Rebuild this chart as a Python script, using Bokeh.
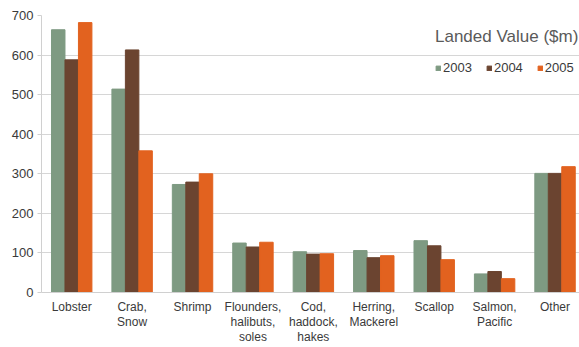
from bokeh.plotting import figure
from bokeh.models import (ColumnDataSource, FixedTicker, Legend, LegendItem,
                          Range1d)
from bokeh.transform import dodge
from bokeh.embed import file_html
from bokeh.resources import INLINE

categories = ["Lobster", "Crab,\nSnow", "Shrimp", "Flounders,\nhalibuts,\nsoles",
              "Cod,\nhaddock,\nhakes", "Herring,\nMackerel", "Scallop",
              "Salmon,\nPacific", "Other"]
v2003 = [664, 514, 273, 125, 103, 106, 131, 47, 301]
v2004 = [588, 613, 279, 115, 97, 88, 118, 53, 301]
v2005 = [682, 358, 300, 127, 98, 93, 83, 35, 318]
y_ticks = [0, 100, 200, 300, 400, 500, 600, 700]

pos = [i + 0.5 for i in range(len(categories))]
src = ColumnDataSource(dict(x=pos, y03=v2003, y04=v2004, y05=v2005))

FONT = "Liberation Sans"
GREEN, BROWN, ORANGE = "#7e9a82", "#6b4430", "#e2621f"

p = figure(width=579, height=347, output_backend="svg", toolbar_location=None,
           x_range=Range1d(0, 8.905), y_range=Range1d(0, 700),
           min_border_left=41, min_border_right=0, min_border_top=15,
           min_border_bottom=50)
p.outline_line_color = None
p.background_fill_color = "white"
p.border_fill_color = "white"

bw = 0.223
r03 = p.vbar(x=dodge("x", -bw, range=p.x_range), top="y03", width=bw,
             source=src, color=GREEN)
r04 = p.vbar(x=dodge("x", 0, range=p.x_range), top="y04", width=bw,
             source=src, color=BROWN)
r05 = p.vbar(x=dodge("x", bw, range=p.x_range), top="y05", width=bw,
             source=src, color=ORANGE)

# y axis
p.yaxis.ticker = FixedTicker(ticks=y_ticks)
p.yaxis.axis_line_color = "#d0d0d0"
p.yaxis.major_tick_line_color = "#d0d0d0"
p.yaxis.major_tick_in = 0
p.yaxis.major_tick_out = 4
p.yaxis.minor_tick_line_color = None
p.yaxis.major_label_text_font = FONT
p.yaxis.major_label_text_font_size = "13px"
p.yaxis.major_label_text_color = "#3a3a3a"
p.yaxis.major_label_standoff = 4

# x axis with multi-line category names
p.xaxis.ticker = FixedTicker(ticks=pos)
p.xaxis.major_label_overrides = {x: c for x, c in zip(pos, categories)}
p.xaxis.axis_line_color = "#d0d0d0"
p.xaxis.major_tick_line_color = None
p.xaxis.major_tick_in = 0
p.xaxis.major_tick_out = 0
p.xaxis.minor_tick_line_color = None
p.xaxis.major_label_text_font = FONT
p.xaxis.major_label_text_font_size = "12px"
p.xaxis.major_label_text_color = "#3a3a3a"
p.xaxis.major_label_text_line_height = 1.1
p.xaxis.major_label_standoff = 7

p.xgrid.grid_line_color = None
p.ygrid.grid_line_color = "#d6d6d6"
p.ygrid.grid_line_width = 1

legend = Legend(items=[LegendItem(label="2003", renderers=[r03]),
                       LegendItem(label="2004", renderers=[r04]),
                       LegendItem(label="2005", renderers=[r05])],
                orientation="horizontal", location=(394, 217),
                title="Landed Value ($m)")
legend.title_text_font = FONT
legend.title_text_font_size = "17px"
legend.title_text_font_style = "normal"
legend.title_text_color = "#5a5a5a"
legend.title_standoff = 13
legend.label_text_font = FONT
legend.label_text_font_size = "13px"
legend.label_text_color = "#3a3a3a"
legend.glyph_width = 6
legend.glyph_height = 6
legend.label_standoff = 2
legend.spacing = 14
legend.padding = 2
legend.margin = 0
legend.label_height = 12
legend.background_fill_alpha = 0
legend.border_line_color = None
p.add_layout(legend, "center")

open("out.html", "w").write(file_html(p, INLINE))
